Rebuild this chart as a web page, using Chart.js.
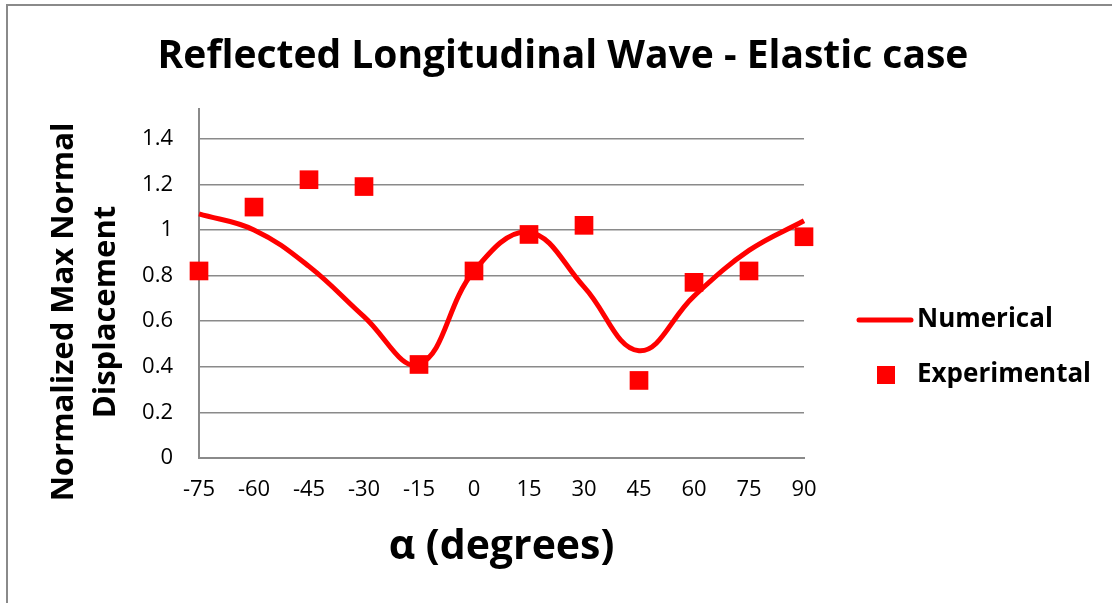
<!DOCTYPE html>
<html>
<head>
<meta charset="utf-8">
<script src="https://cdn.jsdelivr.net/npm/chart.js@4.4.1/dist/chart.umd.min.js"></script>
<style>
  html, body { margin: 0; padding: 0; background: #fff; overflow: hidden; }
  #frame {
    position: absolute; left: 6px; top: 4px; width: 2000px; height: 2000px;
    border: 2px solid #8a8a8a; box-sizing: border-box;
  }
  #stage { position: absolute; left: 0; top: 0; }
</style>
</head>
<body>
<div id="frame"></div>
<canvas id="stage" width="1112" height="603"></canvas>
<script>
const chartTitle = "Reflected Longitudinal Wave - Elastic case";
const xTitle = "α (degrees)";
const yTitle = ["Normalized Max Normal", "Displacement"];

const angles = ["-75", "-60", "-45", "-30", "-15", "0", "15", "30", "45", "60", "75", "90"];
const numerical = [1.07, 1.00, 0.84, 0.62, 0.41, 0.82, 0.99, 0.75, 0.47, 0.71, 0.91, 1.04];
const experimental = [0.82, 1.10, 1.22, 1.19, 0.41, 0.82, 0.98, 1.02, 0.34, 0.77, 0.82, 0.97];

const yTicks = [0, 0.2, 0.4, 0.6, 0.8, 1, 1.2, 1.4];

const RED = "#ff0000";
const GRID = "#8a8a8a";
const FONT = '"Open Sans", "DejaVu Sans", sans-serif';

// title, y axis title and legend drawn on top of the chart
const chartText = {
  id: "chartText",
  afterDraw(chart) {
    const ctx = chart.ctx;
    ctx.save();
    ctx.fillStyle = "#000";

    ctx.font = "bold 39px " + FONT;
    ctx.textAlign = "center";
    ctx.textBaseline = "alphabetic";
    ctx.fillText(chartTitle, 563, 68);

    ctx.save();
    ctx.translate(85, 312);
    ctx.rotate(-Math.PI / 2);
    ctx.font = "bold 31px " + FONT;
    ctx.textBaseline = "middle";
    ctx.fillText(yTitle[0], 0, -21);
    ctx.fillText(yTitle[1], 0, 21);
    ctx.restore();

    // legend
    const ds = chart.data.datasets;
    ctx.font = "bold 26px " + FONT;
    ctx.textAlign = "left";
    ctx.textBaseline = "middle";

    ctx.strokeStyle = ds[0].borderColor;
    ctx.lineWidth = 5;
    ctx.lineCap = "round";
    ctx.beginPath();
    ctx.moveTo(859, 320);
    ctx.lineTo(911, 320);
    ctx.stroke();
    ctx.fillText(ds[0].label, 917, 320);

    ctx.fillStyle = ds[1].backgroundColor;
    ctx.fillRect(877, 366, 18, 18);
    ctx.fillStyle = "#000";
    ctx.fillText(ds[1].label, 917, 375);
    ctx.restore();
  }
};

new Chart(document.getElementById("stage"), {
  type: "line",
  data: {
    labels: angles,
    datasets: [
      {
        label: "Numerical",
        data: numerical,
        borderColor: RED,
        backgroundColor: RED,
        borderWidth: 5,
        pointRadius: 0,
        tension: 0.4,
        fill: false,
        clip: false,
        order: 1
      },
      {
        label: "Experimental",
        data: experimental,
        showLine: false,
        borderColor: RED,
        backgroundColor: RED,
        pointStyle: "rect",
        pointRadius: 13.2,
        pointBorderWidth: 0,
        clip: false,
        order: 0
      }
    ]
  },
  options: {
    responsive: false,
    animation: false,
    events: [],
    layout: { padding: { top: 109, right: 308, bottom: 0, left: 0 } },
    plugins: {
      legend: { display: false },
      title: { display: false },
      tooltip: { enabled: false }
    },
    scales: {
      x: {
        type: "category",
        offset: false,
        grid: { display: false, drawTicks: false },
        border: { display: true, color: GRID, width: 2 },
        ticks: {
          color: "#000",
          font: { family: FONT, size: 22 },
          padding: 19,
          maxRotation: 0,
          autoSkip: false
        },
        title: {
          display: true,
          text: xTitle,
          color: "#000",
          font: { family: FONT, size: 41, weight: "bold" },
          padding: { top: 0, bottom: 31 }
        },
        afterFit(axis) { axis.height = 145; }
      },
      y: {
        min: 0,
        max: 1.53,
        grid: { color: GRID, lineWidth: 1.5, drawTicks: false },
        border: { display: true, color: GRID, width: 2 },
        ticks: {
          color: "#000",
          font: { family: FONT, size: 22 },
          padding: 26,
          stepSize: 0.2,
          callback: v => String(Math.round(v * 10) / 10)
        },
        afterBuildTicks(axis) {
          axis.ticks = yTicks.map(v => ({ value: v }));
        },
        afterFit(axis) { axis.width = 199; }
      }
    }
  },
  plugins: [chartText]
});
</script>
</body>
</html>
